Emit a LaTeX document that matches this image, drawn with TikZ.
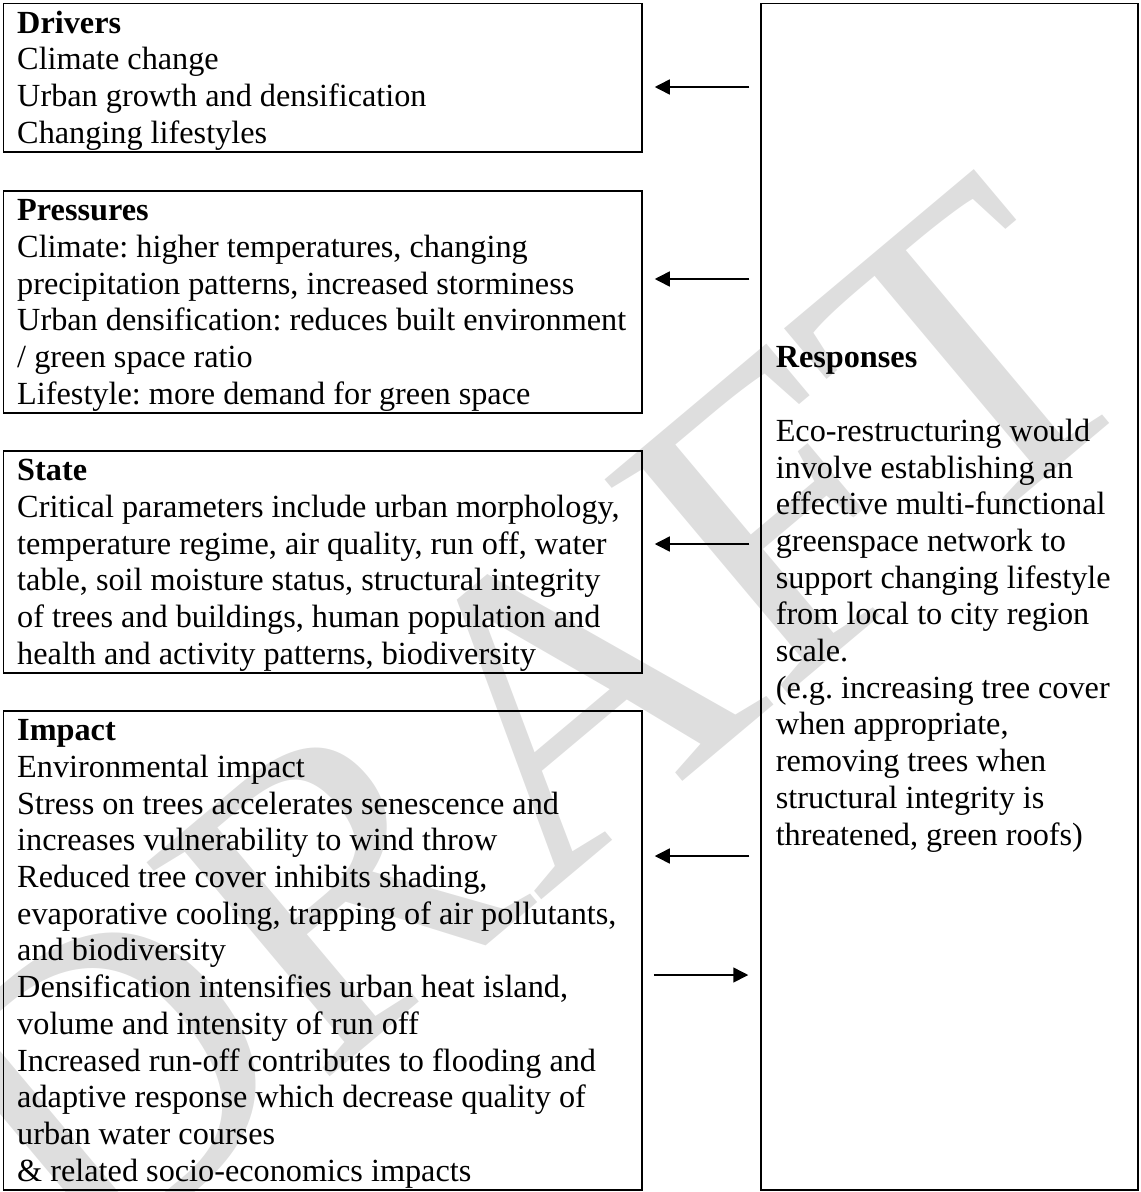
\documentclass[tikz,border=0pt]{standalone}
\usepackage{fontspec}
\setmainfont{Liberation Serif}
\usetikzlibrary{arrows.meta,fit,calc}
\frenchspacing

\begin{document}
\begin{tikzpicture}[x=0.4pt,y=-0.4pt,
    box/.style={draw,line width=0.6pt,inner sep=0pt},
    txt/.style={anchor=north west,inner sep=0pt,align=left,font=\fontsize{12.9}{14.68}\selectfont},
    arr/.style={line width=0.6pt,-{Triangle[length=6pt,width=6pt]}}]
\useasboundingbox (0,0) rectangle (1140,1192);
% watermark
\node[rotate=40,text=black!13,font=\fontsize{172}{172}\selectfont] (draft) at (530,725) {DRAFT};
% boxes
\foreach \n/\ytop/\ybot in {drivers/3.5/152, pressures/191/413, state/451/673, impact/711/1190}
    \node[box,fit={(3.5,\ytop) (642,\ybot)}] (\n) {};
\node[box,fit={(761,3.5) (1138,1190)}] (responses) {};
% texts
\node[txt] (driverstext) at ($(drivers.north west)+(14,4.3)$) {\strut\textbf{Drivers}\\
    Climate change\\
    Urban growth and densification\\
    Changing lifestyles};
\node[txt] (pressurestext) at ($(pressures.north west)+(14,4.3)$) {\strut\textbf{Pressures}\\
    Climate: higher temperatures, changing\\
    precipitation patterns, increased storminess\\
    Urban densification: reduces built environment\\
    / green space ratio\\
    Lifestyle: more demand for green space};
\node[txt] (statetext) at ($(state.north west)+(14,4.3)$) {\strut\textbf{State}\\
    Critical parameters include urban morphology,\\
    temperature regime, air quality, run off, water\\
    table, soil moisture status, structural integrity\\
    of trees and buildings, human population and\\
    health and activity patterns, biodiversity};
\node[txt] (impacttext) at ($(impact.north west)+(14,4.3)$) {\strut\textbf{Impact}\\
    Environmental impact\\
    Stress on trees accelerates senescence and\\
    increases vulnerability to wind throw\\
    Reduced tree cover inhibits shading,\\
    evaporative cooling, trapping of air pollutants,\\
    and biodiversity\\
    Densification intensifies urban heat island,\\
    volume and intensity of run off\\
    Increased run-off contributes to flooding and\\
    adaptive response which decrease quality of\\
    urban water courses\\
    \& related socio-economics impacts};
\node[txt] (responsestext) at ($(responses.north west)+(15,339)$) {\strut\textbf{Responses}\\
    \mbox{}\\
    Eco-restructuring would\\
    involve establishing an\\
    effective multi-functional\\
    greenspace network to\\
    support changing lifestyle\\
    from local to city region\\
    scale.\\
    (e.g. increasing tree cover\\
    when appropriate,\\
    removing trees when\\
    structural integrity is\\
    threatened, green roofs)};
% arrows
\foreach \n/\ya in {drivers/87, pressures/279, state/544, impact/856}
    \draw[arr] ($(responses.west |- 0,\ya)+(-11,0)$) -- ($(\n.east |- 0,\ya)+(12,0)$);
\draw[arr] ($(impact.east |- 0,975)+(11,0)$) -- ($(responses.west |- 0,975)+(-12,0)$);
\end{tikzpicture}
\end{document}
